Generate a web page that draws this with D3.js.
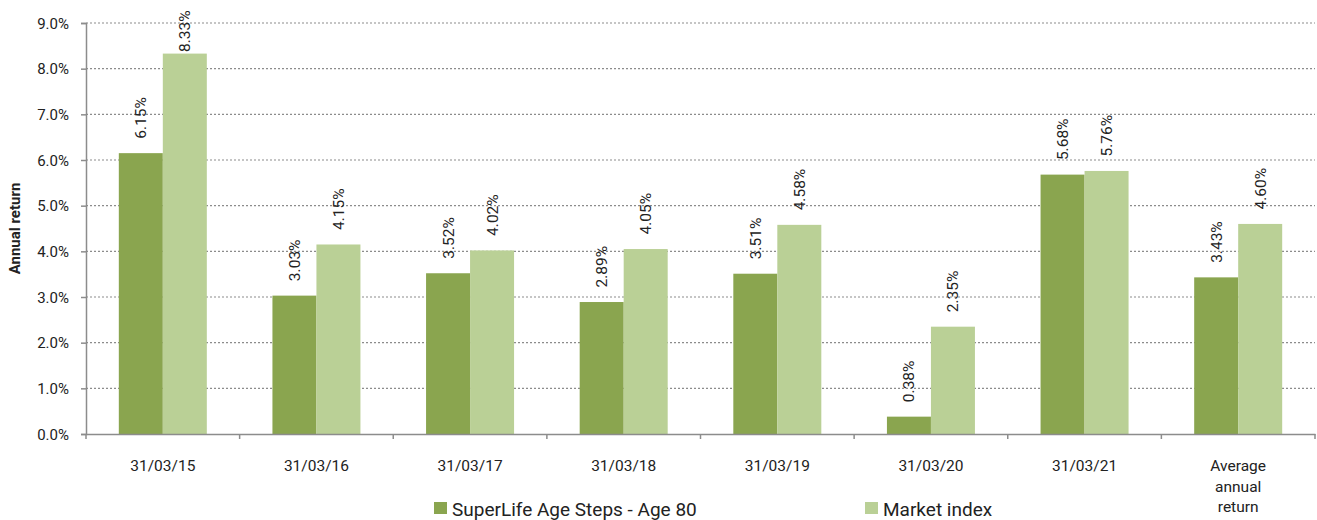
<!DOCTYPE html>
<html>
<head>
<meta charset="utf-8">
<script src="https://cdn.jsdelivr.net/npm/d3@7"></script>
<style>
  body { margin: 0; background: #fff; }
  text { font-family: Roboto, "Liberation Sans", sans-serif; fill: #222; }
</style>
</head>
<body>
<div id="chart"></div>
<script>
var categories = ["31/03/15", "31/03/16", "31/03/17", "31/03/18", "31/03/19", "31/03/20", "31/03/21", "Average annual return"];
var superLife = [6.15, 3.03, 3.52, 2.89, 3.51, 0.38, 5.68, 3.43];
var marketIndex = [8.33, 4.15, 4.02, 4.05, 4.58, 2.35, 5.76, 4.60];
var seriesNames = ["SuperLife Age Steps - Age 80", "Market index"];
var yTicks = [0, 1, 2, 3, 4, 5, 6, 7, 8, 9];

var colors = ["#8aa54f", "#bad096"];
var W = 1317, H = 520;
var margin = {left: 86, right: 2, top: 23, bottom: 86};

var svg = d3.select("#chart").append("svg")
    .attr("width", W).attr("height", H);

var x = d3.scaleBand().domain(categories)
    .range([margin.left, W - margin.right]).paddingInner(0).paddingOuter(0);
var y = d3.scaleLinear().domain([0, 9]).range([H - margin.bottom, margin.top]);
var inner = d3.scaleBand().domain([0, 1]).range([0, x.bandwidth()]).paddingInner(0).paddingOuter(0.5 * (x.bandwidth() - 88) / 44);

// gridlines
svg.append("g").selectAll("line").data(yTicks.slice(1)).join("line")
    .attr("x1", margin.left).attr("x2", W - margin.right)
    .attr("y1", d => y(d)).attr("y2", d => y(d))
    .attr("stroke", "#8c8c8c").attr("stroke-width", 1.2)
    .attr("stroke-dasharray", "2,2");

// bars
var data = categories.map((c, i) => ({cat: c, vals: [superLife[i], marketIndex[i]]}));
var groups = svg.append("g").selectAll("g").data(data).join("g")
    .attr("transform", d => "translate(" + x(d.cat) + ",0)");
groups.selectAll("rect").data(d => d.vals.map((v, k) => ({v: v, k: k}))).join("rect")
    .attr("x", d => inner(d.k)).attr("width", inner.bandwidth())
    .attr("y", d => y(d.v)).attr("height", d => y(0) - y(d.v))
    .attr("fill", d => colors[d.k]);

// value labels
groups.selectAll("text.val").data(d => d.vals.map((v, k) => ({v: v, k: k}))).join("text")
    .attr("class", "val")
    .attr("font-size", 15.5)
    .attr("transform", function(d) {
      var cx = inner(d.k) + inner.bandwidth() / 2 + 5.5;
      var base = Math.max(y(d.v) - 14.5, 52);
      return "translate(" + cx + "," + base + ") rotate(-90)";
    })
    .attr("text-anchor", "start")
    .text(d => d.v.toFixed(2) + "%");

// y axis
var yAxis = svg.append("g").attr("transform", "translate(" + margin.left + ",0)")
    .call(d3.axisLeft(y).tickValues(yTicks).tickSize(5).tickFormat(d => d.toFixed(1) + "%"));
yAxis.select(".domain").attr("stroke", "#8c8c8c").attr("stroke-width", 1.5);
yAxis.selectAll(".tick line").attr("stroke", "#8c8c8c").attr("stroke-width", 1.5);
yAxis.selectAll(".tick text").attr("font-size", 15).attr("x", -17).attr("dy", "0.34em")
    .style("font-family", "Roboto, sans-serif").attr("fill", "#222");

// x axis
var xAxis = svg.append("g").attr("transform", "translate(0," + y(0) + ")")
    .call(d3.axisBottom(x).tickSize(0).tickFormat(""));
xAxis.select(".domain").attr("stroke", "#8c8c8c").attr("stroke-width", 1.5);
svg.append("g").selectAll("line").data(categories.concat(["end"])).join("line")
    .attr("x1", (d, i) => i < categories.length ? x(d) : W - margin.right)
    .attr("x2", (d, i) => i < categories.length ? x(d) : W - margin.right)
    .attr("y1", y(0)).attr("y2", y(0) + 5)
    .attr("stroke", "#8c8c8c").attr("stroke-width", 1.5);

var xLabelLines = categories.map(c => c === "Average annual return" ? ["Average", "annual", "return"] : [c]);
svg.append("g").selectAll("text").data(categories).join("text")
    .attr("x", d => x(d) + x.bandwidth() / 2)
    .attr("y", y(0) + 37)
    .attr("text-anchor", "middle")
    .attr("font-size", 15.5)
    .each(function(d, i) {
      d3.select(this).selectAll("tspan").data(xLabelLines[i]).join("tspan")
        .attr("x", x(d) + x.bandwidth() / 2)
        .attr("dy", (t, j) => j === 0 ? 0 : 20.5)
        .text(t => t);
    });

// y title
svg.append("text")
    .attr("transform", "translate(20," + y(4.5) + ") rotate(-90)")
    .attr("text-anchor", "middle")
    .attr("font-size", 15).attr("font-weight", "bold")
    .text("Annual return");

// legend
var legendX = [434, 865];
var legend = svg.append("g").selectAll("g").data(seriesNames).join("g")
    .attr("transform", (d, i) => "translate(" + legendX[i] + ",502)");
legend.append("rect").attr("width", 13).attr("height", 12).attr("fill", (d, i) => colors[i]);
legend.append("text").attr("x", 18).attr("y", 14).attr("font-size", 19).text(d => d);
</script>
</body>
</html>
